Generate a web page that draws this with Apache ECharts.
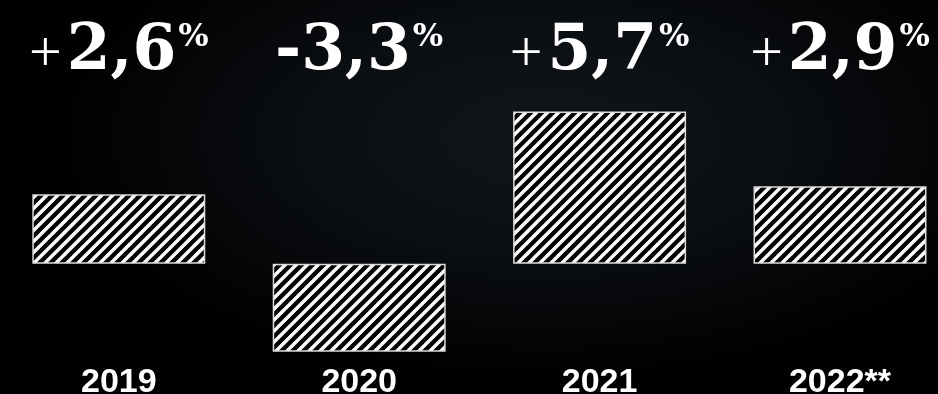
<!DOCTYPE html>
<html><head><meta charset="utf-8">
<script src="https://cdn.jsdelivr.net/npm/echarts@6/dist/echarts.min.js"></script>
<style>
html,body{margin:0;padding:0;background:#000;}
#c{width:938px;height:394px;background:radial-gradient(ellipse 60% 70% at 58% 35%, #12161c 0%, #0a0d11 45%, #010101 85%);}
</style>
</head><body><div id="c"></div>
<script>
const categories = ['2019', '2020', '2021', '2022**'];
const values = [2.6, -3.3, 5.7, 2.9];

function makePattern() {
  const P = 11, N = 6, S = P * N;
  const cv = document.createElement('canvas');
  cv.width = S; cv.height = S;
  const ctx = cv.getContext('2d');
  ctx.fillStyle = '#030405';
  ctx.fillRect(0, 0, S, S);
  ctx.strokeStyle = '#ffffff';
  ctx.lineWidth = 3.4;
  ctx.lineCap = 'butt';
  for (let k = -N - 1; k <= N + 1; k++) {
    ctx.beginPath();
    ctx.moveTo(k * P - 5, S + 5);
    ctx.lineTo(k * P + S + 5, -5);
    ctx.stroke();
  }
  return cv;
}

const chart = echarts.init(document.getElementById('c'), null, {renderer: 'canvas'});
const serif = '"DejaVu Serif", "Liberation Serif", serif';
chart.setOption({
  animation: false,
  backgroundColor: 'transparent',
  grid: {left: -1.4, width: 961.6, top: 103.5, height: 267, containLabel: false, outerBoundsMode: 'none'},
  xAxis: [{
    type: 'category', data: categories, position: 'bottom',
    axisLine: {show: false, onZero: false}, axisTick: {show: false},
    axisLabel: {color: '#fff', fontFamily: '"Liberation Sans", Arial, sans-serif', fontWeight: 'bold', fontSize: 34, margin: -5, interval: 0}
  }, {
    type: 'category', data: categories, position: 'top',
    axisLine: {show: false}, axisTick: {show: false},
    axisLabel: {
      interval: 0, margin: 13,
      formatter: function (v, i) {
        const val = values[i];
        const num = Math.abs(val).toFixed(1).replace('.', ',');
        return val >= 0 ? '{plus|+}{num|' + num + '}{pct|%}' : '{num|-' + num + '}{pct|%}';
      },
      rich: {
        plus: {color: '#fff', fontFamily: '"Liberation Serif", serif', fontSize: 58, fontWeight: 'normal', padding: [6, 5, 0, 0]},
        num: {color: '#fff', fontFamily: serif, fontSize: 63, fontWeight: 'bold', lineHeight: 76},
        pct: {color: '#fff', fontFamily: serif, fontSize: 32, fontWeight: 'bold', verticalAlign: 'top', lineHeight: 40, padding: [7, 0, 0, 2]}
      }
    }
  }],
  yAxis: {type: 'value', min: -4, max: 6, show: false, splitLine: {show: false}},
  series: [{
    type: 'bar', xAxisIndex: 0, data: values, barWidth: 173,
    itemStyle: {color: {image: makePattern(), repeat: 'repeat'}, borderColor: '#dcdcdc', borderWidth: 1.5}
  }]
});
</script>
</body></html>
